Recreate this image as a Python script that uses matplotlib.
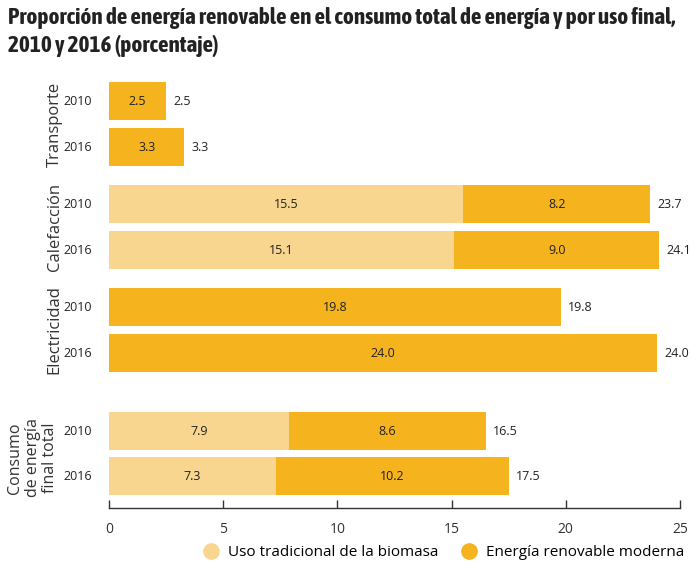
import matplotlib
matplotlib.use("Agg")
import matplotlib.pyplot as plt
from matplotlib.lines import Line2D
from matplotlib import font_manager

years = ["2010", "2016", "2010", "2016", "2010", "2016", "2010", "2016"]
groups = ["Transporte", "Calefacción", "Electricidad", "Consumo\nde energía\nfinal total"]
traditional = [0, 0, 15.5, 15.1, 0, 0, 7.9, 7.3]
modern = [2.5, 3.3, 8.2, 9.0, 19.8, 24.0, 8.6, 10.2]
totals = [2.5, 3.3, 23.7, 24.1, 19.8, 24.0, 16.5, 17.5]
xticks = [0, 5, 10, 15, 20, 25]

# layout (pixel-like rows)
ypos = [101, 147, 204, 250, 307, 353, 431, 476]
group_centers = [124, 227, 330, 458]
group_offsets = [-39, -39, -39, -55]
group_sizes = [12, 12, 12, 11.5]
group_spacing = [0.95, 0.95, 0.95, 1.1]

c_light = "#F9D68F"
c_dark = "#F5B31E"
font = ["Open Sans", "DejaVu Sans"]
plt.rcParams["font.family"] = font


def is_bold(w):
    if isinstance(w, (int, float)):
        return w >= 600
    return str(w).lower() in ("bold", "heavy", "black", "demibold", "semibold", "extra bold", "ultrabold")


cond_bold = sorted({f.name for f in font_manager.fontManager.ttflist
                    if ("Narrow" in f.name or "Condensed" in f.name) and is_bold(f.weight)})
if cond_bold:
    title_family = [cond_bold[0], "DejaVu Sans"]
else:
    title_family = ["Roboto", "DejaVu Sans"]

fig = plt.figure(figsize=(6.9, 5.66), dpi=100)
ax = fig.add_axes([109/690, 1-508/566, (680-109)/690, (508-75)/566])
ax.set_xlim(0, 25)
ax.set_ylim(508, 75)

h = 38
ax.barh(ypos, traditional, height=h, color=c_light, linewidth=0)
ax.barh(ypos, modern, left=traditional, height=h, color=c_dark, linewidth=0)

vs = 9
for y, t, m, tot in zip(ypos, traditional, modern, totals):
    if t > 0:
        ax.text(t/2, y, f"{t:.1f}", ha="center", va="center", fontsize=vs, color="#222222")
    ax.text(t + m/2, y, f"{m:.1f}", ha="center", va="center", fontsize=vs, color="#222222")
    ax.annotate(f"{tot:.1f}", (tot, y), xytext=(5, 0), textcoords="offset points",
                ha="left", va="center", fontsize=vs, color="#222222")

for y, yr in zip(ypos, years):
    ax.annotate(yr, (0, y), xycoords=("axes fraction", "data"), xytext=(-12, 0),
                textcoords="offset points", ha="right", va="center", fontsize=vs, color="#222222")

for yc, g, off, fs, ls in zip(group_centers, groups, group_offsets, group_sizes, group_spacing):
    ax.annotate(g, (0, yc), xycoords=("axes fraction", "data"), xytext=(off, 0),
                textcoords="offset points", ha="center", va="center", rotation=90,
                fontsize=fs, color="#333333", linespacing=ls)

for s in ["top", "right", "left"]:
    ax.spines[s].set_visible(False)
ax.spines["bottom"].set_color("#333333")
ax.spines["bottom"].set_linewidth(1.0)
ax.set_yticks([])
ax.set_xticks(xticks)
ax.set_xticklabels([str(v) for v in xticks])
ax.tick_params(axis="x", direction="in", length=6, width=1, colors="#333333",
               labelsize=10, pad=10)

title = fig.text(8/690, 1-32/566,
                 "Proporción de energía renovable en el consumo total de energía y por uso final,\n2010 y 2016 (porcentaje)",
                 ha="left", va="center", fontsize=12, fontweight="bold", color="#222222",
                 family=title_family, linespacing=1.3)
renderer = fig.canvas.get_renderer()
w = title.get_window_extent(renderer).width
title.set_fontsize(12 * 660 / w)

handles = [Line2D([], [], marker="o", linestyle="", markersize=11, color=c_light),
           Line2D([], [], marker="o", linestyle="", markersize=11, color=c_dark)]
fig.legend(handles, ["Uso tradicional de la biomasa", "Energía renovable moderna"],
           loc="center right", bbox_to_anchor=(1.0, 1-553/566), ncol=2, frameon=False,
           fontsize=11, handletextpad=0.1, columnspacing=1.0, borderaxespad=0.0)

fig.savefig("out.png", dpi=100)
